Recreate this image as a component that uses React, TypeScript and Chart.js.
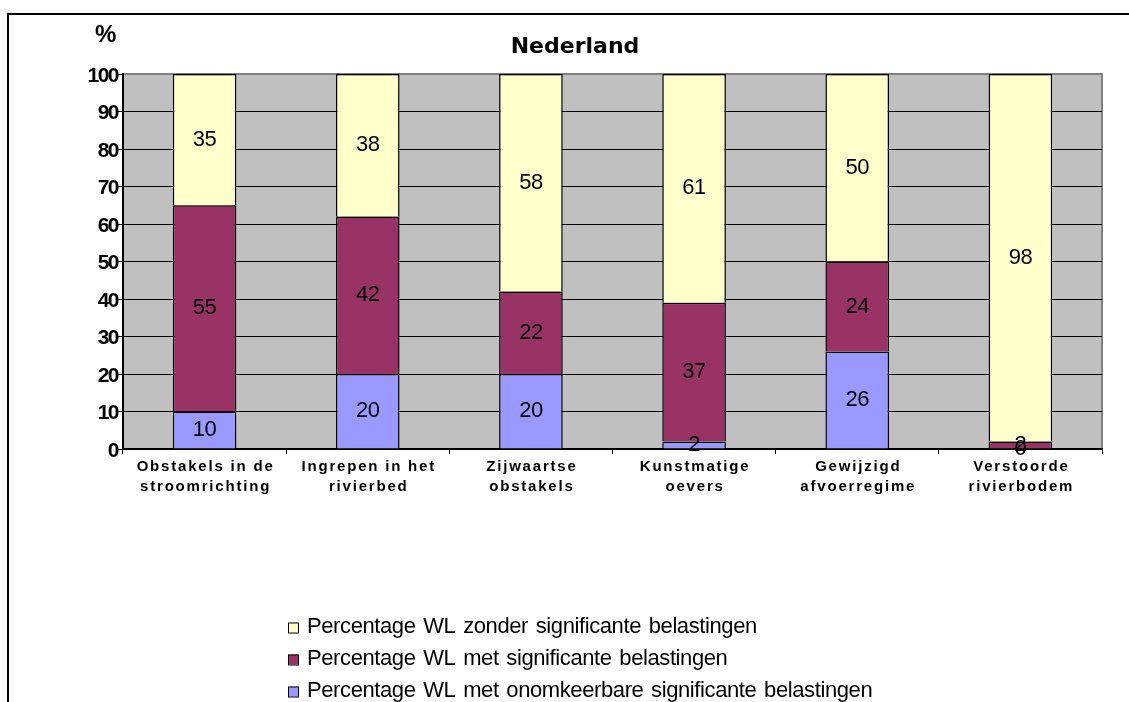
import React, { useEffect, useRef } from 'react';
import { Chart, registerables } from 'chart.js';

Chart.register(...registerables);

const categories: string[][] = [
  ['Obstakels in de', 'stroomrichting'],
  ['Ingrepen in het', 'rivierbed'],
  ['Zijwaartse', 'obstakels'],
  ['Kunstmatige', 'oevers'],
  ['Gewijzigd', 'afvoerregime'],
  ['Verstoorde', 'rivierbodem'],
];
const onomkeerbaar = [10, 20, 20, 2, 26, 0];
const metSignificant = [55, 42, 22, 37, 24, 2];
const zonderSignificant = [35, 38, 58, 61, 50, 98];
const seriesNames = [
  'Percentage WL met onomkeerbare significante belastingen',
  'Percentage WL met significante belastingen',
  'Percentage WL zonder significante belastingen',
];
const seriesColors = ['#9999FF', '#993366', '#FFFFCC'];
const title = 'Nederland';
const yUnit = '%';
const yMin = 0;
const yMax = 100;
const yStep = 10;

const FONT = '"Liberation Sans", Arial, sans-serif';

const drawPlugin = {
  id: 'customDraw',
  beforeDraw(chart: any) {
    const { ctx, chartArea } = chart;
    ctx.save();
    ctx.fillStyle = '#C0C0C0';
    ctx.fillRect(chartArea.left, chartArea.top, chartArea.right - chartArea.left, chartArea.bottom - chartArea.top);
    ctx.strokeStyle = '#808080';
    ctx.lineWidth = 2;
    ctx.beginPath();
    ctx.moveTo(chartArea.left, chartArea.top);
    ctx.lineTo(chartArea.right, chartArea.top);
    ctx.lineTo(chartArea.right, chartArea.bottom);
    ctx.stroke();
    ctx.restore();
  },
  afterDatasetsDraw(chart: any) {
    const { ctx } = chart;
    ctx.save();
    ctx.fillStyle = '#000';
    ctx.font = `22px ${FONT}`;
    (ctx as any).letterSpacing = '-0.5px';
    ctx.textAlign = 'center';
    ctx.textBaseline = 'middle';
    chart.data.datasets.forEach((ds: any, di: number) => {
      const meta = chart.getDatasetMeta(di);
      meta.data.forEach((bar: any, i: number) => {
        const y = (bar.y + bar.base) / 2;
        ctx.fillText(String(ds.data[i]), bar.x, y);
      });
    });
    ctx.restore();
  },
  afterDraw(chart: any) {
    const { ctx, scales } = chart;
    ctx.save();
    // outer frame
    ctx.strokeStyle = '#000';
    ctx.lineWidth = 2;
    ctx.beginPath();
    ctx.moveTo(1129, 14);
    ctx.lineTo(8, 14);
    ctx.lineTo(8, 702);
    ctx.stroke();

    ctx.fillStyle = '#000';
    // y tick labels
    ctx.font = `bold 21px ${FONT}`;
    (ctx as any).letterSpacing = '-1.5px';
    ctx.textAlign = 'right';
    ctx.textBaseline = 'middle';
    scales.y.ticks.forEach((t: any) => {
      const y = scales.y.getPixelForValue(t.value);
      ctx.fillText(String(t.value), 118, y + 2);
    });

    // % unit
    ctx.save();
    ctx.beginPath();
    ctx.rect(80, 20, 37, 40);
    ctx.clip();
    ctx.font = `bold 24px ${FONT}`;
    (ctx as any).letterSpacing = '0px';
    ctx.textAlign = 'left';
    ctx.textBaseline = 'middle';
    ctx.fillText(yUnit, 95, 35);
    ctx.restore();

    // title
    ctx.font = `bold 22px "DejaVu Sans", ${FONT}`;
    (ctx as any).letterSpacing = '0px';
    ctx.textAlign = 'center';
    ctx.textBaseline = 'middle';
    ctx.fillText(title, 575, 47);

    // x labels
    ctx.font = `bold 15px ${FONT}`;
    (ctx as any).letterSpacing = '1.8px';
    ctx.textAlign = 'center';
    ctx.textBaseline = 'middle';
    categories.forEach((lines, i) => {
      const x = scales.x.getPixelForValue(i) + 1;
      lines.forEach((line, li) => {
        ctx.fillText(line, x, 467 + li * 20);
      });
    });

    // legend (reverse order)
    ctx.font = `22px ${FONT}`;
    (ctx as any).letterSpacing = '-0.4px';
    (ctx as any).wordSpacing = '2px';
    ctx.textAlign = 'left';
    ctx.textBaseline = 'middle';
    const order = [2, 1, 0];
    order.forEach((di, row) => {
      const cy = 627.5 + row * 32;
      ctx.fillStyle = chart.data.datasets[di].backgroundColor;
      ctx.fillRect(288, cy - 5, 10, 10);
      ctx.strokeStyle = '#000';
      ctx.lineWidth = 1;
      ctx.strokeRect(288.5, cy - 4.5, 10, 10);
      ctx.fillStyle = '#000';
      ctx.fillText(chart.data.datasets[di].label, 307, cy - 1);
    });
    ctx.restore();
  },
};

export default function App() {
  const canvasRef = useRef<HTMLCanvasElement | null>(null);

  useEffect(() => {
    const canvas = canvasRef.current;
    if (!canvas) return;
    const chart = new Chart(canvas, {
      type: 'bar',
      data: {
        labels: categories.map((c) => c.join(' ')),
        datasets: [
          { label: seriesNames[0], data: onomkeerbaar, backgroundColor: seriesColors[0] },
          { label: seriesNames[1], data: metSignificant, backgroundColor: seriesColors[1] },
          { label: seriesNames[2], data: zonderSignificant, backgroundColor: seriesColors[2] },
        ].map((d) => ({
          ...d,
          borderColor: '#000',
          borderWidth: 1.5,
          barPercentage: 0.39,
          categoryPercentage: 1,
        })),
      },
      options: {
        responsive: false,
        animation: false,
        devicePixelRatio: 1,
        layout: { padding: { top: 74, right: 27, left: 0, bottom: 0 } },
        plugins: {
          legend: { display: false },
          title: { display: false },
          tooltip: { enabled: false },
        },
        scales: {
          x: {
            stacked: true,
            grid: {
              display: true,
              drawOnChartArea: false,
              drawTicks: true,
              tickLength: 5,
              color: '#000',
              tickColor: '#000',
              offset: true,
            },
            border: { display: true, color: '#000', width: 2 },
            ticks: { display: false },
            afterFit: (s: any) => {
              s.height = 253;
            },
          },
          y: {
            stacked: true,
            min: yMin,
            max: yMax,
            ticks: { stepSize: yStep, display: false },
            grid: {
              color: (c: any) => (c.tick && c.tick.value === yMax ? 'rgba(0,0,0,0)' : '#000'),
              tickColor: '#000',
              lineWidth: 1,
              drawTicks: true,
              tickLength: 5,
            },
            border: { display: true, color: '#000', width: 2 },
            afterFit: (s: any) => {
              s.width = 123;
            },
          },
        },
      },
      plugins: [drawPlugin],
    } as any);
    return () => chart.destroy();
  }, []);

  return (
    <div style={{ position: 'absolute', left: 0, top: 0, width: 1129, height: 702, background: '#fff' }}>
      <canvas ref={canvasRef} width={1129} height={702} style={{ display: 'block' }} />
    </div>
  );
}
